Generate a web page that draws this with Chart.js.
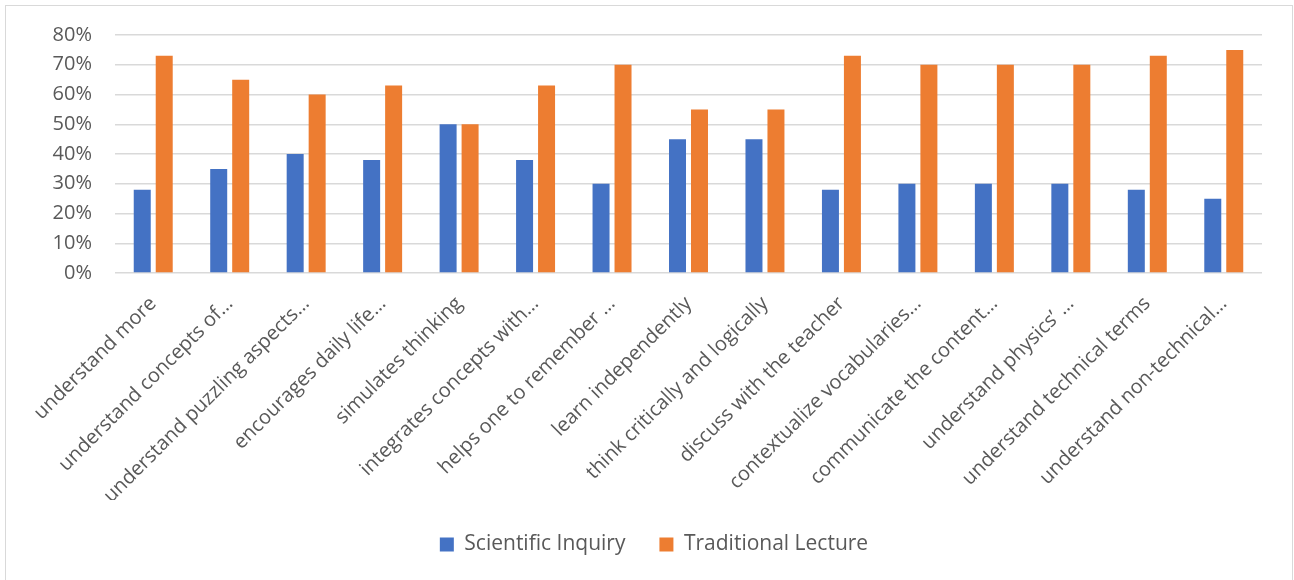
<!DOCTYPE html>
<html>
<head>
<meta charset="utf-8">
<script src="https://cdn.jsdelivr.net/npm/chart.js@4"></script>
<style>
  html, body { margin: 0; padding: 0; background: #fff; }
  #wrap { position: relative; width: 1294px; height: 580px; }
  #frame {
    position: absolute; left: 5px; top: 5px; width: 1286px; height: 600px;
    border: 1px solid #d9d9d9; pointer-events: none;
  }
</style>
</head>
<body>
<div id="wrap">
  <canvas id="canvas" width="1294" height="580"></canvas>
  <div id="frame"></div>
</div>
<script>
const categories = [
  'understand more',
  'understand concepts of…',
  'understand puzzling aspects…',
  'encourages daily life…',
  'simulates thinking',
  'integrates concepts with…',
  'helps one to remember …',
  'learn independently',
  'think critically and logically',
  'discuss with the teacher',
  'contextualize vocabularies…',
  'communicate the content…',
  'understand physics’ …',
  'understand technical terms',
  'understand non-technical…',
];
const scientificInquiry = [28, 35, 40, 38, 50, 38, 30, 45, 45, 28, 30, 30, 30, 28, 25];
const traditionalLecture = [73, 65, 60, 63, 50, 63, 70, 55, 55, 73, 70, 70, 70, 73, 75];
const yTicks = [0, 10, 20, 30, 40, 50, 60, 70, 80];

const textColor = '#595959';
const fontFamily = '"Open Sans", sans-serif';

document.addEventListener('DOMContentLoaded', () => {
  const context = document.getElementById('canvas').getContext('2d');

  const config = {
    type: 'bar',
    data: {
      labels: categories,
      datasets: [
        {
          label: 'Scientific Inquiry',
          data: scientificInquiry,
          backgroundColor: '#4472C4',
        },
        {
          label: 'Traditional Lecture',
          data: traditionalLecture,
          backgroundColor: '#ED7D31',
        },
      ],
    },
    options: {
      responsive: false,
      animation: false,
      events: [],
      // left padding + y axis width = 115, so the legend centres where Excel put it
      layout: {padding: {left: 46, right: 32, top: 35, bottom: 15}},
      datasets: {
        bar: {categoryPercentage: 0.575, barPercentage: 0.773},
      },
      scales: {
        x: {
          grid: {display: false},
          border: {display: false},
          ticks: {
            color: textColor,
            font: {family: fontFamily, size: 20},
            autoSkip: false,
            maxRotation: 45,
            minRotation: 45,
            padding: 11,
          },
          afterFit: scale => { scale.height = 227; },
        },
        y: {
          min: 0,
          max: yTicks[yTicks.length - 1],
          afterBuildTicks: scale => {
            scale.ticks = yTicks.map(value => ({value}));
          },
          grid: {color: '#d9d9d9', lineWidth: 1.5, drawTicks: false},
          border: {display: false},
          ticks: {
            color: textColor,
            font: {family: fontFamily, size: 20},
            padding: 23,
            callback: value => value + '%',
          },
          afterFit: scale => { scale.width = 69; },
        },
      },
      plugins: {
        tooltip: {enabled: false},
        legend: {
          position: 'bottom',
          labels: {
            color: textColor,
            font: {family: fontFamily, size: 21},
            boxWidth: 14,
            boxHeight: 14,
            padding: 34,
          },
        },
      },
    },
  };

  new Chart(context, config);
});
</script>
</body>
</html>
